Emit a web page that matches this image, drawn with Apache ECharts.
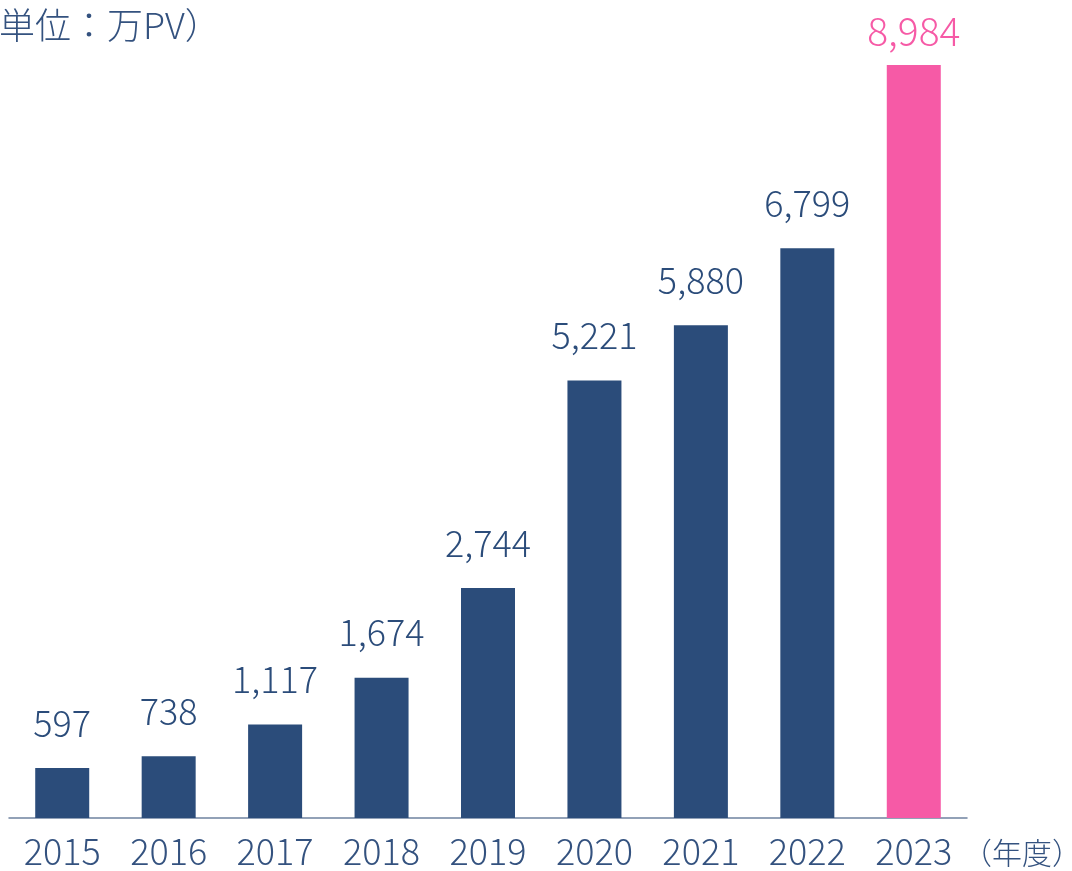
<!DOCTYPE html>
<html>
<head>
<meta charset="utf-8">
<script src="https://cdn.jsdelivr.net/npm/echarts@6/dist/echarts.min.js"></script>
<style>
  html, body { margin: 0; padding: 0; background: #fff; }
  #chart { width: 1072px; height: 871px; }
</style>
</head>
<body>
<div id="chart"></div>
<script>
const years = ['2015', '2016', '2017', '2018', '2019', '2020', '2021', '2022', '2023'];
const pageViews = [597, 738, 1117, 1674, 2744, 5221, 5880, 6799, 8984];
const highlightIndex = 8;

const FONT = '"Noto Sans CJK JP", "Noto Sans", sans-serif';
const NAVY = '#2b4c7a';
const PINK = '#f65aa6';
const TEXT = '#34527f';

const chart = echarts.init(document.getElementById('chart'));

// last year is highlighted in pink
const seriesData = pageViews.map((v, i) => {
  if (i !== highlightIndex) return v;
  return {
    value: v,
    itemStyle: { color: PINK },
    label: { color: PINK, fontSize: 39, distance: 14 },
  };
});

chart.setOption({
  animation: false,
  grid: { left: 9, right: 105, top: 65, bottom: 53 },
  xAxis: {
    type: 'category',
    data: years,
    axisTick: { show: false },
    axisLine: { lineStyle: { color: '#6f83a0', width: 1.5 } },
    axisLabel: {
      color: TEXT,
      fontFamily: FONT,
      fontWeight: 300,
      fontSize: 36,
      margin: 15,
    },
  },
  yAxis: {
    type: 'value',
    min: 0,
    max: 8984,
    show: false,
  },
  series: [
    {
      type: 'bar',
      barWidth: 54,
      data: seriesData,
      itemStyle: { color: NAVY },
      label: {
        show: true,
        position: 'top',
        distance: 27,
        color: NAVY,
        fontFamily: FONT,
        fontWeight: 300,
        fontSize: 36,
        formatter: (p) => p.value.toLocaleString('en-US'),
      },
    },
  ],
  graphic: [
    {
      type: 'text',
      left: -1,
      top: 7,
      style: { text: '単位：万PV）', font: '300 36px ' + FONT, fill: TEXT },
    },
    {
      type: 'text',
      left: 962,
      top: 838,
      style: { text: '（年度）', font: '300 30px ' + FONT, fill: TEXT },
    },
  ],
});
</script>
</body>
</html>
